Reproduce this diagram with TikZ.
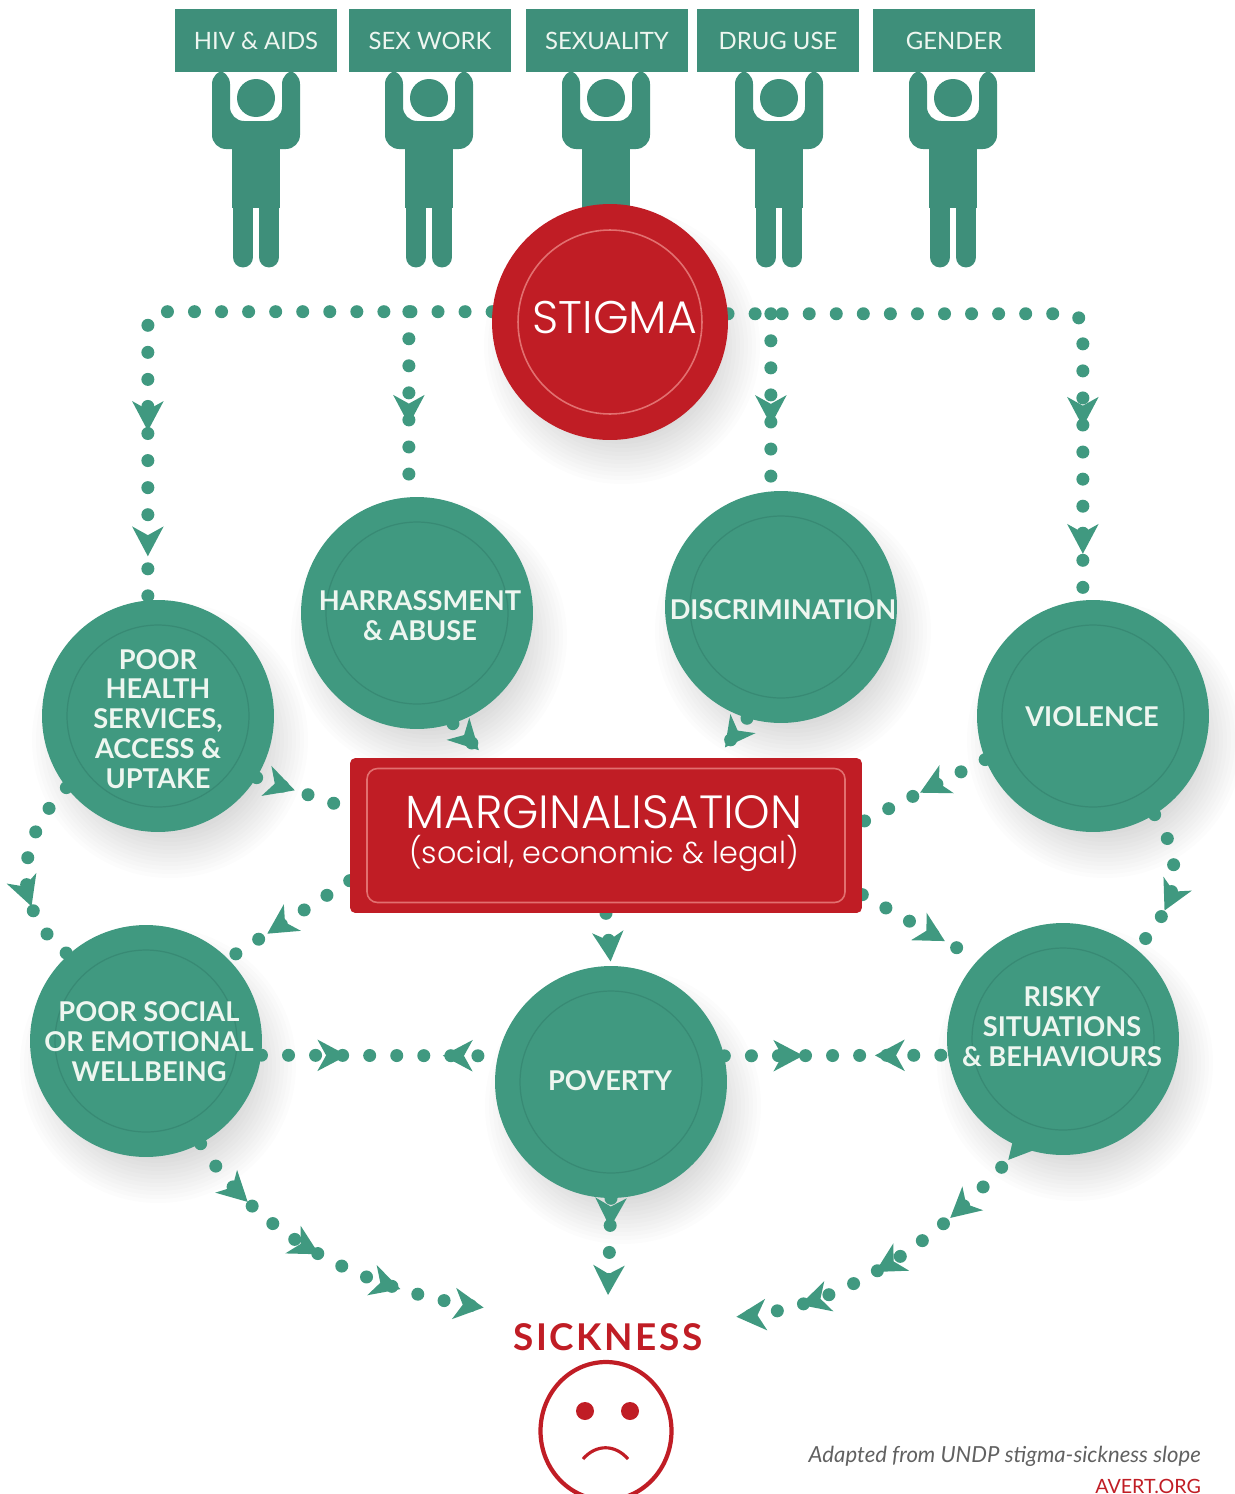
\documentclass[tikz,border=0pt]{standalone}
\usepackage{fontspec}
\setmainfont{Lato}
\newfontfamily\gothicfont{Poppins Light}
\usetikzlibrary{arrows.meta,decorations.markings,backgrounds,shapes.geometric}
\definecolor{flowgreen}{RGB}{64,153,128}
\definecolor{bodygreen}{RGB}{62,143,122}
\definecolor{ringgreen}{RGB}{56,138,116}
\definecolor{sickred}{RGB}{192,29,37}
\definecolor{ringred}{RGB}{226,112,112}
\definecolor{paleink}{RGB}{238,246,240}
\tikzset{
  bubble/.style={circle,fill=flowgreen,minimum size=4.64cm,inner sep=0pt,
    path picture={\draw[ringgreen,line width=0.7pt] (path picture bounding box.center) circle (1.82cm);}},
  bubbletext/.style={text=paleink,align=center,font=\fontsize{15.5pt}{17pt}\selectfont\bfseries},
  signbox/.style={rectangle,fill=bodygreen,minimum width=3.24cm,minimum height=1.28cm,inner sep=0pt,
    text=paleink,font=\fontsize{13.6pt}{16pt}\selectfont},
  flow/.style={draw=flowgreen,line width=7.4pt,line cap=round,dash pattern=on 0pt off 15.4pt},
  headat/.style={postaction={decorate,decoration={markings,mark=at position #1 with
    {\arrow{Stealth[length=17pt,width=18pt,inset=5pt,line width=0pt]}}}}},
  backat/.style={postaction={decorate,decoration={markings,mark=at position #1 with
    {\arrowreversed{Stealth[length=17pt,width=18pt,inset=5pt,line width=0pt]}}}}},
}
\newcommand{\softshadow}[1]{%
  \foreach \g in {0,4,...,44}
    \fill[black,opacity=0.011] ([shift={(12,24)}]#1) circle ({94+\g});%
}
\begin{document}
\begin{tikzpicture}[x=0.02cm,y=-0.02cm]
  \useasboundingbox (0,0) rectangle (1234,1494);

  % Placing the five signs
  \foreach \x/\lab/\nm in {256/HIV \& AIDS/hiv,430/SEX WORK/sexwork,607/SEXUALITY/sexuality,778/DRUG USE/druguse,954/GENDER/gender}
    \node[signbox] (sign\nm) at (\x,40.5) {\lab};

  % Placing the circles
  \node[circle,fill=sickred,minimum size=4.72cm,inner sep=0pt,
    path picture={\draw[ringred,line width=0.9pt] (path picture bounding box.center) circle (1.84cm);}] (stigma) at (610,322) {};
  \node[text=white,font=\gothicfont\fontsize{26pt}{30pt}\selectfont] (stigmatext) at (615,318) {STIGMA};
  \node[bubble] (harassment) at (417,613) {};
  \node[bubbletext] (harassmenttext) at (420,616) {HARRASSMENT\\\& ABUSE};
  \node[bubble] (discrimination) at (781,607) {};
  \node[bubbletext] (discriminationtext) at (783,610) {DISCRIMINATION};
  \node[bubble] (health) at (158,716) {};
  \node[bubbletext] (healthtext) at (158,719) {POOR\\HEALTH\\SERVICES,\\ACCESS \&\\UPTAKE};
  \node[bubble] (violence) at (1093,716) {};
  \node[bubbletext] (violencetext) at (1092,717) {VIOLENCE};
  \node[bubble] (wellbeing) at (146,1041) {};
  \node[bubbletext] (wellbeingtext) at (149,1042) {POOR SOCIAL\\OR EMOTIONAL\\WELLBEING};
  \node[bubble] (poverty) at (611,1082) {};
  \node[bubbletext] (povertytext) at (610,1081) {POVERTY};
  \node[bubble] (risky) at (1063,1039) {};
  \node[bubbletext] (riskytext) at (1062,1027) {RISKY\\SITUATIONS\\\& BEHAVIOURS};

  % Placing the red box
  \node[rectangle,fill=sickred,rounded corners=3pt,minimum width=10.24cm,minimum height=3.1cm,inner sep=0pt,
    path picture={\draw[ringred,line width=0.9pt,rounded corners=6pt] ([shift={(-239,-67)}]path picture bounding box.center) rectangle ([shift={(239,67)}]path picture bounding box.center);}] (marg) at (606,835.5) {};
  \node[text=white,font=\gothicfont\fontsize{26.5pt}{30pt}\selectfont] (margtext) at (604,812) {MARGINALISATION};
  \node[text=white,font=\gothicfont\fontsize{17.2pt}{20pt}\selectfont] (margsub) at (604,853) {(social, economic \& legal)};

  % Placing the bottom texts and the face
  \node[text=sickred,font=\fontsize{21pt}{24pt}\selectfont\bfseries\addfontfeatures{LetterSpace=7}] (sickness) at (608,1337) {SICKNESS};
  \node[ellipse,draw=sickred,line width=2.4pt,minimum width=2.62cm,minimum height=2.76cm,inner sep=0pt] (face) at (606,1431) {};
  \node[circle,fill=sickred,minimum size=0.36cm,inner sep=0pt] (lefteye) at (585,1411) {};
  \node[circle,fill=sickred,minimum size=0.36cm,inner sep=0pt] (righteye) at (630,1411) {};
  \draw[sickred,line width=1.8pt] (583,1459) .. controls (596,1444) and (615,1444) .. (628,1459);
  \node[anchor=east,text=black!62,font=\fontsize{12.6pt}{15pt}\selectfont\itshape] (credit) at (1207,1456) {Adapted from UNDP stigma-sickness slope};
  \node[anchor=east,text=sickred,font=\fontsize{11.2pt}{13pt}\selectfont] (avert) at (1207,1486) {AVERT.ORG};

  % Free ends of the flows at the word sickness
  \coordinate (sickleft) at (487,1308);
  \coordinate (sickright) at (733,1317);
  \coordinate (sicktop) at (608,1296);

  \begin{scope}[on background layer]
    % Drawing the people under the signs
    \foreach \x in {256,429,606,779,953} {
      \fill[bodygreen,rounded corners=8pt] (\x-44,70) -- (\x-44,149) -- (\x+44,149) -- (\x+44,70) -- (\x+26,70) -- (\x+26,121) -- (\x-26,121) -- (\x-26,70) -- cycle;
      \fill[bodygreen] (\x-24,121) rectangle (\x+24,208);
      \fill[bodygreen] (\x,98) circle (19);
      \draw[bodygreen,line width=11.9pt,line cap=round] (\x-13,200) -- (\x-13,257);
      \draw[bodygreen,line width=11.9pt,line cap=round] (\x+13,200) -- (\x+13,257);
    }

    % Drawing the soft shadows
    \softshadow{stigma}
    \softshadow{harassment}
    \softshadow{discrimination}
    \softshadow{health}
    \softshadow{violence}
    \softshadow{wellbeing}
    \softshadow{poverty}
    \softshadow{risky}

    % Drawing flows from stigma
    \draw[flow,rounded corners=8pt,headat=0.73,headat=0.93] (stigma.175) -| (health.95);
    \draw[flow,headat=0.61] (stigma.175 -| harassment.94.5) -- (harassment.94.5);
    \draw[flow,rounded corners=8pt,headat=0.727,headat=0.927] (stigma.4) -| (violence.95);
    \draw[flow,headat=0.627] (stigma.4 -| discrimination.95) -- (discrimination.95);

    % Drawing flows into marginalisation
    \draw[flow,headat=0.78] (harassment.-72) -- (marg.147.5);
    \draw[flow,headat=0.74] (discrimination.253) -- (marg.35);
    \draw[flow,headat=0.41] (health.-32.6) -- (marg.174.9);
    \draw[flow,headat=0.53] (violence.202) -- (marg.3.6);

    % Drawing flows out of marginalisation
    \draw[flow,headat=0.68] (marg.190.6) -- (wellbeing.45);
    \draw[flow,headat=0.715] (marg.-13.6) -- (risky.137);
    \draw[flow,headat=0.92] (marg.south) -- (poverty.north);

    % Drawing the two side loops
    \draw[flow,headat=0.68] (health.218) .. controls (15,840) and (10,910) .. (wellbeing.132);
    \draw[flow,headat=0.68] (violence.-58) .. controls (1185,860) and (1180,905) .. (risky.51);

    % Drawing flows around poverty
    \draw[flow,headat=0.363,backat=0.768] (wellbeing.-7.4) -- (poverty.167);
    \draw[flow,headat=0.353,backat=0.674] (poverty.13) -- (risky.188.4);

    % Drawing flows into sickness
    \draw[flow,headat=0.3,headat=0.99] (poverty.south) -- (sicktop);
    \draw[flow,headat=0.22,headat=0.48,headat=0.74,headat=0.99] (wellbeing.-62) .. controls (250,1225) and (350,1290) .. (sickleft);
    \draw[flow,headat=0.05,headat=0.29,headat=0.56,headat=0.8,headat=0.99] (risky.-112) .. controls (950,1230) and (850,1310) .. (sickright);
  \end{scope}
\end{tikzpicture}
\end{document}
